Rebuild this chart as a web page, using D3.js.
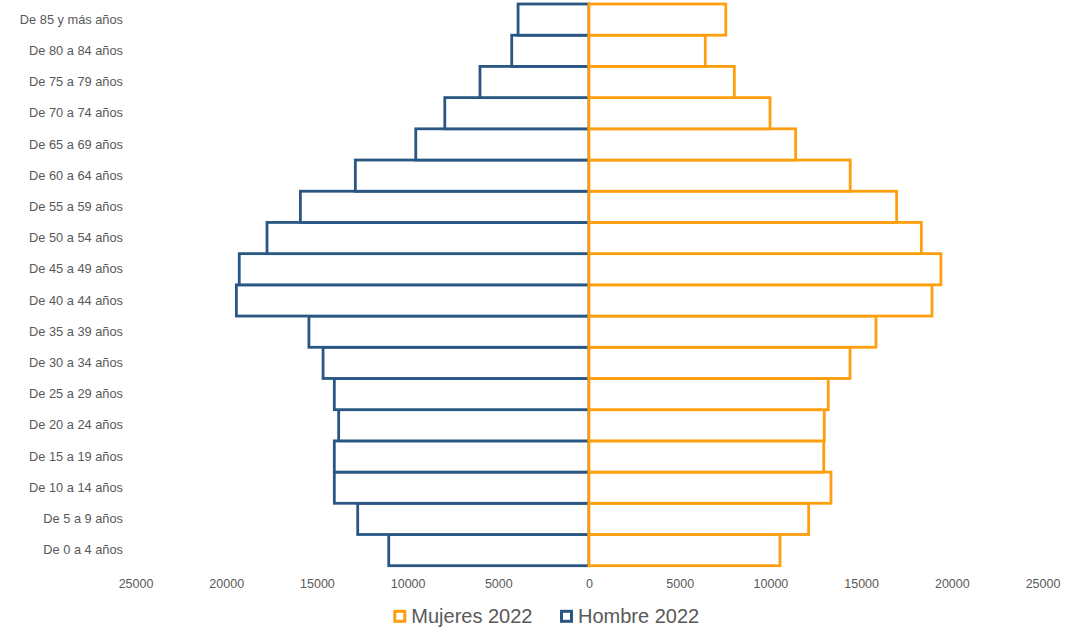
<!DOCTYPE html>
<html>
<head>
<meta charset="utf-8">
<script src="https://cdn.jsdelivr.net/npm/d3@7"></script>
<style>
  html, body { margin: 0; padding: 0; background: #fff; }
  svg { display: block; font-family: "Liberation Sans", Arial, sans-serif; }
</style>
</head>
<body>
<svg id="chart" width="1073" height="627"></svg>
<script>
const categories = [
  "De 0 a 4 años", "De 5 a 9 años", "De 10 a 14 años", "De 15 a 19 años",
  "De 20 a 24 años", "De 25 a 29 años", "De 30 a 34 años", "De 35 a 39 años",
  "De 40 a 44 años", "De 45 a 49 años", "De 50 a 54 años", "De 55 a 59 años",
  "De 60 a 64 años", "De 65 a 69 años", "De 70 a 74 años", "De 75 a 79 años",
  "De 80 a 84 años", "De 85 y más años"
];
const hombre2022 = [
  11040, 12750, 14040, 14040, 13800, 14040, 14660, 15440, 19440, 19280,
  17750, 15910, 12880, 9550, 7950, 6010, 4260, 3910
];
const mujeres2022 = [
  10530, 12110, 13340, 12940, 12970, 13190, 14390, 15820, 18910, 19400,
  18320, 16960, 14400, 11390, 9980, 8010, 6410, 7540
];
const xTicks = [-25000, -20000, -15000, -10000, -5000, 0, 5000, 10000, 15000, 20000, 25000];
const seriesNames = ["Mujeres 2022", "Hombre 2022"];

const colorMujeres = "#ff9f0f";
const colorHombre = "#295683";
const textColor = "#595959";

const svg = d3.select("#chart");

const x = d3.scaleLinear().domain([-25000, 25000]).range([135.5, 1042.5]);
const y = d3.scaleBand().domain(categories.slice().reverse()).range([4, 565.7]).padding(0);

const rows = categories.map((c, i) => ({ cat: c, h: hombre2022[i], m: mujeres2022[i] }));

// Hombre bars (left)
svg.append("g").selectAll("rect").data(rows).join("rect")
  .attr("x", d => x(-d.h))
  .attr("y", d => y(d.cat))
  .attr("width", d => x(0) - x(-d.h))
  .attr("height", y.bandwidth())
  .attr("fill", "#fff")
  .attr("stroke", colorHombre)
  .attr("stroke-width", 2.8);

// Mujeres bars (right)
svg.append("g").selectAll("rect").data(rows).join("rect")
  .attr("x", x(0))
  .attr("y", d => y(d.cat))
  .attr("width", d => x(d.m) - x(0))
  .attr("height", y.bandwidth())
  .attr("fill", "#fff")
  .attr("stroke", colorMujeres)
  .attr("stroke-width", 2.8);

// X axis
const xAxis = svg.append("g")
  .attr("transform", "translate(0,570)")
  .call(d3.axisBottom(x).tickValues(xTicks).tickSize(0).tickPadding(9)
    .tickFormat(d => String(Math.abs(d))));
xAxis.select(".domain").remove();
xAxis.selectAll("text")
  .attr("fill", textColor)
  .style("font-size", "12.5px")
  .style("font-family", "'Liberation Sans', Arial, sans-serif");

// Y axis
const yAxis = svg.append("g")
  .attr("transform", "translate(123,0)")
  .call(d3.axisLeft(y).tickSize(0).tickPadding(0));
yAxis.select(".domain").remove();
yAxis.selectAll("text")
  .attr("fill", textColor)
  .style("font-size", "12.8px")
  .style("font-family", "'Liberation Sans', Arial, sans-serif");

// Legend
const legend = svg.append("g");
const legendItems = [
  { name: seriesNames[0], color: colorMujeres, x: 394.8 },
  { name: seriesNames[1], color: colorHombre, x: 561.5 }
];
legendItems.forEach(it => {
  legend.append("rect")
    .attr("x", it.x).attr("y", 611.3)
    .attr("width", 10).attr("height", 10)
    .attr("fill", "#fff")
    .attr("stroke", it.color)
    .attr("stroke-width", 3);
  legend.append("text")
    .attr("x", it.x + 16.5).attr("y", 623.3)
    .attr("fill", textColor)
    .style("font-size", "20px")
    .style("font-family", "'Liberation Sans', Arial, sans-serif")
    .text(it.name);
});
</script>
</body>
</html>
